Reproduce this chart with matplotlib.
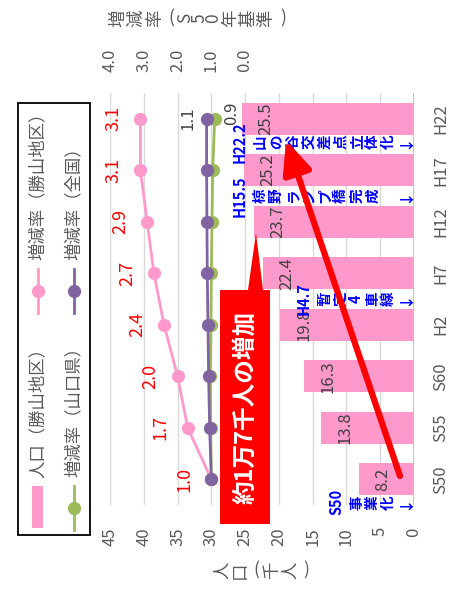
import matplotlib
matplotlib.use('Agg')
import matplotlib.pyplot as plt
from matplotlib.patches import Polygon, Rectangle, FancyArrowPatch
from matplotlib.lines import Line2D

plt.rcParams['font.family'] = ['Noto Sans CJK JP', 'DejaVu Sans']

# ----------------------------------------------
# data
# ----------------------------------------------
years = ['S50', 'S55', 'S60', 'H2', 'H7', 'H12', 'H17', 'H22']
population = [8.2, 13.8, 16.3, 19.8, 22.4, 23.7, 25.2, 25.5]      # 勝山地区 (千人)
rate_katsuyama = [1.0, 1.7, 2.0, 2.4, 2.7, 2.9, 3.1, 3.1]         # S50 = 1.0
rate_yamaguchi = [1.00, 1.02, 1.03, 1.01, 1.00, 0.98, 0.96, 0.90]
rate_japan = [1.00, 1.05, 1.08, 1.10, 1.12, 1.13, 1.14, 1.14]

event_dates = ['S50', 'H4.7', 'H15.5', 'H22.2']
event_names = ['事業化↓', '暫定4車線↓', '椋野ランプ橋完成 ↓', '山の谷交差点立体化↓']
event_slots = [-0.45, 3.5, 5.5, 6.55]   # gaps between the year bars

PINK = '#ff99cc'
GREEN = '#9bbb59'
PURPLE = '#8064a2'
GREY = '#595959'

W, H = 469, 597
fig = plt.figure(figsize=(W / 100, H / 100), dpi=100)


def fx(x):
    return x / W


def fy(y):
    return 1 - y / H


def stacked(x0, y, s, size=12, full=18, half=14, color=GREY):
    # vertical-style text: every glyph turned on its own
    x = x0
    for ch in s:
        w = half if ord(ch) < 0x2000 else full
        rot = 0 if ch in '()' else 90
        fig.text(fx(x + w / 2), fy(y), ch, rotation=rot, ha='center', va='center',
                 fontsize=size, color=color)
        x += w


# ----------------------------------------------
# population bars
# ----------------------------------------------
ax = fig.add_axes([fx(110), fy(505), (414 - 110) / W, (505 - 93) / H])
pos = list(range(len(years)))
ax.barh(pos, population, height=0.62, color=PINK, zorder=2)
ax.set_xlim(45, 0)
ax.set_ylim(-0.5, len(years) - 0.5)
ax.set_xticks(range(0, 50, 5))
ax.grid(axis='x', color='#d9d9d9', lw=1)
ax.set_axisbelow(True)
for s in ax.spines.values():
    s.set_visible(False)
ax.axvline(0, color='#bfbfbf', lw=1.3, zorder=3)
ax.tick_params(axis='x', length=0, pad=16, labelsize=12, labelcolor=GREY, labelrotation=90)
ax.yaxis.tick_right()
ax.set_yticks(pos, years)
ax.tick_params(axis='y', length=0, pad=13, labelsize=12, labelcolor=GREY, labelrotation=90)
for t in ax.get_yticklabels():
    t.set_va('center')
    t.set_ha('left')

for i, v in enumerate(population):
    ax.annotate(f'{v:.1f}', (v, i), xytext=(24, 0), textcoords='offset pixels',
                rotation=90, ha='center', va='center', fontsize=12, color='#404040', zorder=4)

# milestones along the road
for date, name, slot in zip(event_dates, event_names, event_slots):
    n = len(name)
    for k, ch in enumerate(name):
        ax.annotate(ch, (0, slot), xytext=(-(10 + (n - 1 - k) * 16), 0),
                    textcoords='offset pixels', rotation=90, ha='center', va='center',
                    fontsize=10.5, fontweight='bold', color='#0000ff', zorder=5)
    ax.annotate(date, (0, slot), xytext=(-(10 + (n - 1) * 16 + 20), 0),
                textcoords='offset pixels', rotation=90, ha='center', va='center',
                fontsize=10.5, fontweight='bold', color='#0000ff', zorder=5)

# ----------------------------------------------
# growth rates (S50 base) on the secondary axis
# ----------------------------------------------
ax2 = ax.twiny()
ax2.set_xlim(4.0, -5.0)
ax2.set_xticks([0, 1, 2, 3, 4])
ax2.xaxis.set_major_formatter('{x:.1f}')
ax2.tick_params(axis='x', length=0, pad=15, labelsize=12, labelcolor=GREY, labelrotation=90)
for s in ax2.spines.values():
    s.set_visible(False)

ax2.plot(rate_katsuyama, pos, color=PINK, lw=2, marker='o', ms=8.5)
ax2.plot(rate_yamaguchi, pos, color=GREEN, lw=2, marker='o', ms=8.5)
ax2.plot(rate_japan, pos, color=PURPLE, lw=2, marker='o', ms=8.5)

for i, v in enumerate(rate_katsuyama):
    ax2.annotate(f'{v:.1f}', (v, i), xytext=(-27, 0), textcoords='offset pixels',
                 rotation=90, ha='center', va='center', fontsize=13, color='#ff0000')
ax2.annotate(f'{rate_japan[-1]:.1f}', (rate_japan[-1], pos[-1]), xytext=(-19, 0),
             textcoords='offset pixels', rotation=90, ha='center', va='center',
             fontsize=12, color='#404040')
ax2.annotate(f'{rate_yamaguchi[-1]:.1f}', (rate_yamaguchi[-1], pos[-1]), xytext=(17, 5),
             textcoords='offset pixels', rotation=90, ha='center', va='center',
             fontsize=12, color='#404040')

# axis titles
stacked(213, 570, '人口(千人)', size=12.5, full=18, half=14)
stacked(109, 18, '増減率(S50年基準)', size=12.5, full=18.5, half=14)

# ----------------------------------------------
# legend
# ----------------------------------------------
fig.add_artist(Rectangle((fx(18), fy(535)), (90 - 18) / W, (535 - 103) / H,
                         transform=fig.transFigure, facecolor='white',
                         edgecolor='black', lw=1.3))
fig.add_artist(Rectangle((fx(32), fy(528)), 11 / W, 42 / H, transform=fig.transFigure,
                         facecolor=PINK, edgecolor='none'))
fig.text(fx(38), fy(478), '人口（勝山地区）', rotation=90, ha='center', va='bottom',
         fontsize=12.5, color=GREY)
legend_rows = [(38, 291, PINK, '増減率（勝山地区）'),
               (74, 508, GREEN, '増減率（山口県）'),
               (74, 291, PURPLE, '増減率（全国）')]
for x, yc, col, lab in legend_rows:
    fig.add_artist(Line2D([fx(x), fx(x)], [fy(yc + 22), fy(yc - 22)],
                          transform=fig.transFigure, color=col, lw=2))
    fig.add_artist(Line2D([fx(x)], [fy(yc)], transform=fig.transFigure,
                          color=col, marker='o', ms=8.5))
    fig.text(fx(x), fy(yc - 31), lab, rotation=90, ha='center', va='bottom',
             fontsize=12.5, color=GREY)

# ----------------------------------------------
# callout and trend arrow
# ----------------------------------------------
callout = [(220, 524), (270, 524), (270, 290), (263, 290), (256, 233), (248, 290), (220, 290)]
fig.add_artist(Polygon([(fx(x), fy(y)) for x, y in callout], closed=True,
                       transform=fig.transFigure, facecolor='#ff0000', edgecolor='none'))
fig.text(fx(245), fy(407), '約1万7千人の増加', rotation=90, ha='center', va='center',
         fontsize=17, fontweight='bold', color='white')

fig.add_artist(FancyArrowPatch((fx(400), fy(476)), (fx(286), fy(140)),
                               transform=fig.transFigure,
                               arrowstyle='-|>,head_length=0.8,head_width=0.35',
                               mutation_scale=25, lw=4.5, color='#ff0000',
                               shrinkA=0, shrinkB=0))

fig.savefig('out.png', dpi=100)
